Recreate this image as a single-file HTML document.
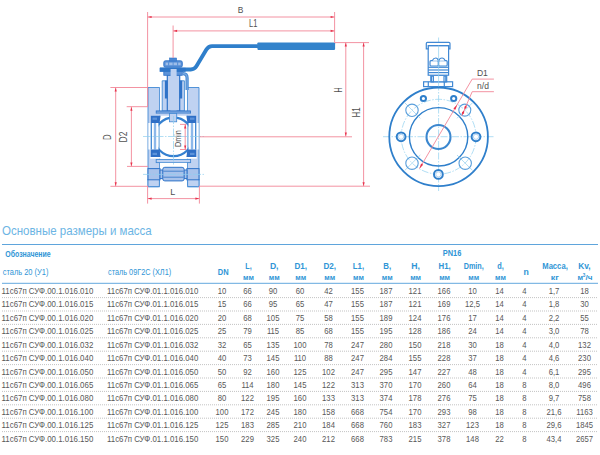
<!DOCTYPE html><html><head><meta charset="utf-8"><style>html,body{margin:0;padding:0;background:#fff;width:600px;height:455px;overflow:hidden}svg{display:block}text{font-family:"Liberation Sans",sans-serif}</style></head><body>
<svg width="600" height="455" viewBox="0 0 600 455">
<rect width="600" height="455" fill="#fff"/>
<g id="drawing"><defs>
<clipPath id="ballclip"><rect x="158.6" y="110" width="29.8" height="60"/></clipPath>
</defs>
<!-- ============ SIDE VIEW VALVE ============ -->
<g id="valve">
  <!-- body blocks (light fill) -->
  <g fill="#bfd2f1" stroke="#4189d4" stroke-width="0.9">
    <path d="M148 87.5 H159.6 V186.8 H148 Z"/>
    <path d="M187.4 87.5 H199 V186.8 H187.4 Z"/>
    <!-- bonnet outer -->
    <path d="M162.2 80.8 H184.4 V111 H162.2 Z"/>
    <!-- inner bonnet -->
    <path d="M167.3 75 H179.7 V111 H167.3 Z" stroke="#2f73c8" stroke-width="1.2"/>
    <!-- stem -->
    <rect x="170.4" y="71" width="6.2" height="42" stroke="none"/>
    <!-- bottom plate -->
    <rect x="156.2" y="159.4" width="34.4" height="3.2"/>
  </g>
  <!-- packing -->
  <g fill="#2f73c8">
    <rect x="164.9" y="80.6" width="2.6" height="17.9"/>
    <rect x="179.6" y="80.6" width="2.6" height="17.9"/>
  </g>
  <g stroke="#ffffff" stroke-width="1">
    <line x1="160.6" y1="88" x2="160.6" y2="110.4"/>
    <line x1="186.3" y1="88" x2="186.3" y2="110.4"/>
  </g>
  <!-- bonnet bottom flange -->
  <rect x="156.2" y="110.9" width="34.3" height="2.8" fill="#6d9edc" stroke="#2f73c8" stroke-width="0.8"/>
  <!-- limit pin tube -->
  <path d="M183 73.6 Q187.1 73.6 187.1 78 V90" fill="none" stroke="#4189d4" stroke-width="3.2"/>
  <path d="M183 73.6 Q187.1 73.6 187.1 78 V90" fill="none" stroke="#7eaae2" stroke-width="1.1"/>
  <!-- handle -->
  <path d="M160 69.5 H190.8 Q194.4 69.5 196.4 66.3 L206.4 49.6 Q208.5 46.1 212 46.1 H258" fill="none" stroke="#2f7fcb" stroke-width="3.9" stroke-linejoin="round"/>
  <rect x="257.4" y="42.5" width="77.7" height="7.4" rx="0.8" fill="#3383cb"/>
  <!-- shoulder under plate -->
  <rect x="163.8" y="71" width="18.5" height="4.3" fill="#5b92d8" stroke="#2f73c8" stroke-width="0.8"/>
  <!-- handle plate -->
  <rect x="159.6" y="67.8" width="26" height="4" fill="#2f76c8"/>
  <!-- stem through plate -->
  <rect x="170.6" y="69" width="6" height="7" fill="#bfd2f1"/>
  <!-- nut -->
  <rect x="163.8" y="60.8" width="18.5" height="6.4" rx="1.6" fill="#5b92d8" stroke="#2f73c8" stroke-width="0.9"/>
  <g fill="#9dbde9">
    <rect x="165.6" y="62.6" width="2.4" height="2.6"/>
    <rect x="169.2" y="62.6" width="3.4" height="2.6"/>
    <rect x="173.6" y="62.6" width="3.4" height="2.6"/>
    <rect x="178.2" y="62.6" width="2.4" height="2.6"/>
  </g>
  <rect x="169.6" y="58" width="7" height="3" fill="#4a88d4" stroke="#2f73c8" stroke-width="0.6"/>
  <!-- ball region -->
  <rect x="150.2" y="115.6" width="46.6" height="43.1" fill="#ffffff"/>
  <rect x="150.2" y="113.6" width="46.6" height="2.1" fill="#bfd2f1"/>
  <!-- seat side stripes -->
  <rect x="148.4" y="123" width="2" height="26.5" fill="#fff"/>
  <rect x="196.6" y="123" width="2" height="26.5" fill="#fff"/>
  <g stroke="#3580d0" stroke-width="1.2">
    <line x1="151.3" y1="123" x2="151.3" y2="149.5"/>
    <line x1="195.7" y1="123" x2="195.7" y2="149.5"/>
  </g>
  <g stroke="#8db8ea" stroke-width="2.4">
    <line x1="155" y1="123" x2="155" y2="149.5"/>
    <line x1="192" y1="123" x2="192" y2="149.5"/>
  </g>
  <g stroke="#5b9ad9" stroke-width="1">
    <line x1="159.1" y1="123" x2="159.1" y2="149.5"/>
    <line x1="187.9" y1="123" x2="187.9" y2="149.5"/>
  </g>
  <!-- ball -->
  <g clip-path="url(#ballclip)">
    <circle cx="173.5" cy="136.85" r="19.35" fill="none" stroke="#3580d0" stroke-width="2.3"/>
  </g>
  <!-- seats (dark) -->
  <g fill="#2f6fc6">
    <path d="M150.6 115.7 H160.6 L159.6 123.1 H150.6 Z"/>
    <path d="M196.4 115.7 H186.4 L187.4 123.1 H196.4 Z"/>
    <path d="M150.6 149.4 H159.6 L160.6 156.9 H150.6 Z"/>
    <path d="M196.4 149.4 H187.4 L186.4 156.9 H196.4 Z"/>
  </g>
  <g fill="#5d93da">
    <rect x="152.5" y="117.6" width="4.5" height="2.2"/>
    <rect x="190" y="117.6" width="4.5" height="2.2"/>
    <rect x="152.5" y="152.8" width="4.5" height="2.2"/>
    <rect x="190" y="152.8" width="4.5" height="2.2"/>
  </g>
  <!-- stem tang -->
  <rect x="169.5" y="113.5" width="7.2" height="8.3" fill="#bfd2f1" stroke="#4189d4" stroke-width="0.8"/>
  <!-- white gaps -->
  <rect x="160.1" y="162.9" width="26.8" height="24.5" fill="#fff"/>
  <!-- feet -->
  <path d="M148 179 V185.3 Q148 186.6 149.3 186.6 H158.1 Q159.4 186.6 159.4 185.3 V179" fill="#bfd2f1" stroke="#4189d4" stroke-width="0.9"/>
  <path d="M187.6 179 V185.3 Q187.6 186.6 188.9 186.6 H197.7 Q199 186.6 199 185.3 V179" fill="#bfd2f1" stroke="#4189d4" stroke-width="0.9"/>
  <!-- bottom bolt -->
  <g fill="#a9c3eb" stroke="#2f73c8" stroke-width="1">
    <rect x="148" y="168.6" width="12" height="11.2"/>
    <rect x="186.9" y="168.6" width="12.1" height="11.2"/>
    <rect x="160" y="170" width="3.2" height="8.6"/>
    <rect x="183.8" y="170" width="3.2" height="8.6"/>
    <rect x="162.8" y="167.3" width="21.3" height="13.6" rx="2"/>
  </g>
  <line x1="163.3" y1="171.2" x2="183.6" y2="171.2" stroke="#2f73c8" stroke-width="0.8"/>
  <line x1="163.3" y1="177.2" x2="183.6" y2="177.2" stroke="#2f73c8" stroke-width="0.8"/>
</g>
<!-- center lines side view -->
<g stroke="#8fd0ef" stroke-width="0.7" fill="none">
  <line x1="143" y1="136.5" x2="205" y2="136.5" stroke-dasharray="8 1.5 1.5 1.5"/>
  <line x1="143" y1="174.4" x2="204" y2="174.4" stroke-dasharray="8 1.5 1.5 1.5"/>
  <line x1="173.5" y1="116" x2="173.5" y2="166" stroke-dasharray="8 1.5 1.5 1.5"/>
</g>

<!-- ============ RED DIMENSIONS ============ -->
<g stroke="#f28797" stroke-width="0.9" fill="none">
  <line x1="147.6" y1="12" x2="147.6" y2="106.7"/>
  <line x1="147.6" y1="17" x2="334.6" y2="17"/>
  <line x1="334.6" y1="12" x2="334.6" y2="42.6"/>
  <line x1="173.1" y1="25.5" x2="173.1" y2="58"/>
  <line x1="173.1" y1="30.9" x2="334.6" y2="30.9"/>
  <line x1="334.6" y1="42.6" x2="369" y2="42.6"/>
  <line x1="345.8" y1="42.6" x2="345.8" y2="136.5"/>
  <line x1="363.6" y1="42.6" x2="363.6" y2="186.2"/>
  <line x1="199.5" y1="136.8" x2="352" y2="136.8"/>
  <line x1="199.5" y1="186.2" x2="370" y2="186.2"/>
  <line x1="110.4" y1="87.5" x2="148" y2="87.5"/>
  <line x1="115.7" y1="87.5" x2="115.7" y2="186.3"/>
  <line x1="110.4" y1="186.3" x2="148" y2="186.3"/>
  <line x1="126.7" y1="106.7" x2="148" y2="106.7"/>
  <line x1="131.4" y1="106.7" x2="131.4" y2="166.4"/>
  <line x1="127" y1="166.4" x2="148" y2="166.4"/>
  <line x1="147.6" y1="186" x2="147.6" y2="203.6"/>
  <line x1="199.4" y1="186" x2="199.4" y2="203.6"/>
  <line x1="147.6" y1="198.6" x2="199.4" y2="198.6"/>
  <line x1="180" y1="124.4" x2="186.5" y2="124.4"/>
  <line x1="180" y1="149.5" x2="186.5" y2="149.5"/>
  <line x1="185.2" y1="124.4" x2="185.2" y2="149.5"/>
</g>
<g fill="#e8324c">
  <!-- B arrows -->
  <path d="M147.8 17 l3.8 -1.1 v2.2 Z"/>
  <path d="M334.4 17 l-3.8 -1.1 v2.2 Z"/>
  <path d="M173.3 30.9 l3.8 -1.1 v2.2 Z"/>
  <path d="M334.4 30.9 l-3.8 -1.1 v2.2 Z"/>
  <!-- H, H1 -->
  <path d="M345.8 42.8 l-1.1 3.8 h2.2 Z"/>
  <path d="M345.8 136.3 l-1.1 -3.8 h2.2 Z"/>
  <path d="M363.6 42.8 l-1.1 3.8 h2.2 Z"/>
  <path d="M363.6 186 l-1.1 -3.8 h2.2 Z"/>
  <!-- D, D2 -->
  <path d="M115.7 87.7 l-1.1 3.8 h2.2 Z"/>
  <path d="M115.7 186.1 l-1.1 -3.8 h2.2 Z"/>
  <path d="M131.4 106.9 l-1.1 3.8 h2.2 Z"/>
  <path d="M131.4 166.2 l-1.1 -3.8 h2.2 Z"/>
  <!-- L -->
  <path d="M147.8 198.6 l3.8 -1.1 v2.2 Z"/>
  <path d="M199.2 198.6 l-3.8 -1.1 v2.2 Z"/>
  <!-- Dmin -->
  <path d="M185.2 124.6 l-1.1 3.8 h2.2 Z"/>
  <path d="M185.2 149.3 l-1.1 -3.8 h2.2 Z"/>
</g>
<!-- labels -->
<g fill="#505050">
  <text x="237.78" y="12.72" font-size="9.6" textLength="5.6" lengthAdjust="spacingAndGlyphs">B</text>
  <text x="248.98" y="26.72" font-size="10.33" textLength="8.34" lengthAdjust="spacingAndGlyphs">L1</text>
  <text x="170.15" y="194.52" font-size="9.6" textLength="5.0" lengthAdjust="spacingAndGlyphs">L</text>
  <text transform="translate(111.25 139.95) rotate(-90)" font-size="10.47" textLength="5.58" lengthAdjust="spacingAndGlyphs">D</text>
  <text transform="translate(127.38 142.38) rotate(-90)" font-size="10.43" textLength="10.78" lengthAdjust="spacingAndGlyphs">D2</text>
  <text transform="translate(341.58 92.52) rotate(-90)" font-size="10.76" textLength="5.13" lengthAdjust="spacingAndGlyphs">H</text>
  <text transform="translate(360.08 117.58) rotate(-90)" font-size="11.35" textLength="10.2" lengthAdjust="spacingAndGlyphs">H1</text>
  <text transform="translate(180.9 147.1) rotate(-90)" font-size="8.28" textLength="16.95" lengthAdjust="spacingAndGlyphs">Dmin</text>
  <text x="476.88" y="75.82" font-size="9.6" textLength="10.97" lengthAdjust="spacingAndGlyphs">D1</text>
  <text x="477.0" y="89.12" font-size="9.09" textLength="11.89" lengthAdjust="spacingAndGlyphs">n/d</text>
</g>

<!-- ============ FRONT VIEW ============ -->
<g id="front">
  <!-- center lines -->
  <g stroke="#8fd0ef" stroke-width="0.7" fill="none" stroke-dasharray="7 1.5 1.5 1.5">
    <line x1="383" y1="136.7" x2="495" y2="136.7"/>
    <line x1="438.6" y1="37.5" x2="438.6" y2="191"/>
    <circle cx="438.6" cy="136.7" r="37.4"/>
  </g>
  <!-- actuator -->
  <g fill="#fff" stroke="#4189d4" stroke-width="1.2">
    <rect x="423.6" y="81.8" width="29" height="4.8"/>
    <line x1="428.3" y1="81.8" x2="428.3" y2="86.6"/>
    <line x1="444.3" y1="81.8" x2="444.3" y2="86.6"/>
    <rect x="430.8" y="75.2" width="15.9" height="6.6"/>
    <rect x="431.6" y="76" width="1.8" height="5.8"/>
    <rect x="444" y="76" width="1.8" height="5.8"/>
    <rect x="428.2" y="45.6" width="20.4" height="29.6"/>
    <path d="M426.3 48.8 V43.4 Q426.3 42.3 427.4 42.3 H448.9 Q450 42.3 450 43.4 V48.8 H448.6 V45.6 H428.2 V48.8 Z"/>
    <line x1="428.2" y1="67.3" x2="448.6" y2="67.3"/>
    <line x1="428.2" y1="70" x2="448.6" y2="70"/>
    <line x1="428.2" y1="72.6" x2="448.6" y2="72.6"/>
    <rect x="430" y="60.7" width="8.3" height="5.3" rx="1"/>
    <rect x="438.6" y="60.7" width="8.6" height="5.3" rx="1"/>
    <path d="M432.2 60.7 Q433.5 58 435.8 58 Q437.6 58 438.3 60.7 M438.8 60.7 Q439.6 58 442 58 Q444.2 58 445 60.7"/>
  </g>
  <line x1="438.6" y1="45.6" x2="438.6" y2="87" stroke="#8fd0ef" stroke-width="0.7"/>
  <!-- outer flange -->
  <circle cx="438.6" cy="136.8" r="49.3" fill="none" stroke="#2f7fcb" stroke-width="1.8"/>
  <circle cx="438.6" cy="136.8" r="29.2" fill="none" stroke="#2f7fcb" stroke-width="1.4"/>
  <circle cx="438.5" cy="137" r="12" fill="none" stroke="#3b87cf" stroke-width="2.1"/>
  <!-- solid bolts -->
  <g fill="#fff" stroke="#2f7fcb" stroke-width="2">
    <circle cx="401.1" cy="136.8" r="4.4"/>
    <circle cx="476" cy="136.8" r="4.4"/>
    <circle cx="438.4" cy="174.4" r="4.4"/>
    <circle cx="423.4" cy="98.5" r="2.6"/>
    <circle cx="453.7" cy="98.5" r="2.6"/>
  </g>
  <g fill="none" stroke="#8fc0ec" stroke-width="0.7">
    <circle cx="401.1" cy="136.8" r="2.6"/>
    <circle cx="476" cy="136.8" r="2.6"/>
    <circle cx="438.4" cy="174.4" r="2.6"/>
  </g>
  <!-- holes with X -->
  <g fill="none" stroke="#8fcdee" stroke-width="0.7">
    <path d="M404.7 102.7 L420.3 118.3 M472.6 102.7 L457 118.3 M404.7 170.5 L420.3 155 M472.6 170.5 L457 155"/>
  </g>
  <g fill="none" stroke="#5a9fdc" stroke-width="1.1">
    <circle cx="412" cy="110.3" r="6.2"/>
    <circle cx="464.8" cy="110.1" r="6"/>
    <circle cx="412" cy="163.2" r="6.2"/>
    <circle cx="465.2" cy="163.2" r="6.2"/>
  </g>
  <!-- leaders -->
  <g stroke="#f28797" stroke-width="0.9" fill="none">
    <path d="M493.9 79.1 H472.2 L419.50 168.50"/>
    <path d="M493.9 91.7 H472.2 L461.8 115.8"/>
  </g>
  <g fill="#e8324c">
    <path d="M457.09 104.73 L453.41 108.60 L455.48 109.82 Z"/>
    <path d="M419.50 168.50 L423.17 164.63 L421.11 163.41 Z"/>
    <path d="M464.51 109.51 L464.45 106.76 L466.49 104.92 L466.56 107.67 Z"/>
    <path d="M462.10 115.11 L462.03 112.36 L464.08 110.52 L464.14 113.27 Z"/>
  </g>
</g>
</g>
<text x="2" y="235.3" font-size="12.2" fill="#6cb5e4" textLength="149.74" lengthAdjust="spacingAndGlyphs">Основные размеры и масса</text>
<rect x="2" y="244" width="596" height="1" fill="#5fa5dc"/>
<rect x="2" y="282.8" width="596" height="1" fill="#64a9de"/>
<text x="5.33" y="257.2" font-size="8.8" font-weight="bold" fill="#2f95d6" textLength="45.37" lengthAdjust="spacingAndGlyphs">Обозначение</text>
<text x="2.67" y="275.2" font-size="9" fill="#2f95d6" textLength="45.82" lengthAdjust="spacingAndGlyphs">сталь 20 (У1)</text>
<text x="107.97" y="275.4" font-size="9" fill="#2f95d6" textLength="63.19" lengthAdjust="spacingAndGlyphs">сталь 09Г2С (ХЛ1)</text>
<text x="442.8" y="255.8" font-size="8.6" font-weight="bold" fill="#2f95d6" textLength="18.59" lengthAdjust="spacingAndGlyphs">PN16</text>
<text x="217.8" y="274.8" font-size="9" font-weight="bold" fill="#2f95d6" textLength="10.8" lengthAdjust="spacingAndGlyphs">DN</text>
<text x="245.3" y="269.3" font-size="9" font-weight="bold" fill="#2f95d6" textLength="6.36" lengthAdjust="spacingAndGlyphs">L,</text>
<text x="243.03" y="280.1" font-size="7.8" font-weight="bold" fill="#2f95d6" textLength="10.89" lengthAdjust="spacingAndGlyphs">мм</text>
<text x="269.9" y="269.3" font-size="9" font-weight="bold" fill="#2f95d6" textLength="8.63" lengthAdjust="spacingAndGlyphs">D,</text>
<text x="268.76" y="280.1" font-size="7.8" font-weight="bold" fill="#2f95d6" textLength="10.89" lengthAdjust="spacingAndGlyphs">мм</text>
<text x="294.5" y="269.3" font-size="9" font-weight="bold" fill="#2f95d6" textLength="12.6" lengthAdjust="spacingAndGlyphs">D1,</text>
<text x="295.35" y="280.1" font-size="7.8" font-weight="bold" fill="#2f95d6" textLength="10.89" lengthAdjust="spacingAndGlyphs">мм</text>
<text x="323.5" y="269.3" font-size="9" font-weight="bold" fill="#2f95d6" textLength="12.6" lengthAdjust="spacingAndGlyphs">D2,</text>
<text x="324.35" y="280.1" font-size="7.8" font-weight="bold" fill="#2f95d6" textLength="10.89" lengthAdjust="spacingAndGlyphs">мм</text>
<text x="352.8" y="269.3" font-size="9" font-weight="bold" fill="#2f95d6" textLength="11.31" lengthAdjust="spacingAndGlyphs">L1,</text>
<text x="353.00" y="280.1" font-size="7.8" font-weight="bold" fill="#2f95d6" textLength="10.89" lengthAdjust="spacingAndGlyphs">мм</text>
<text x="383.2" y="269.3" font-size="9" font-weight="bold" fill="#2f95d6" textLength="7.88" lengthAdjust="spacingAndGlyphs">B,</text>
<text x="381.69" y="280.1" font-size="7.8" font-weight="bold" fill="#2f95d6" textLength="10.89" lengthAdjust="spacingAndGlyphs">мм</text>
<text x="411.3" y="269.3" font-size="9" font-weight="bold" fill="#2f95d6" textLength="8.63" lengthAdjust="spacingAndGlyphs">H,</text>
<text x="410.17" y="280.1" font-size="7.8" font-weight="bold" fill="#2f95d6" textLength="10.89" lengthAdjust="spacingAndGlyphs">мм</text>
<text x="438.5" y="269.3" font-size="9" font-weight="bold" fill="#2f95d6" textLength="12.24" lengthAdjust="spacingAndGlyphs">H1,</text>
<text x="439.17" y="280.1" font-size="7.8" font-weight="bold" fill="#2f95d6" textLength="10.89" lengthAdjust="spacingAndGlyphs">мм</text>
<text x="463.7" y="269.3" font-size="9" font-weight="bold" fill="#2f95d6" textLength="20.06" lengthAdjust="spacingAndGlyphs">Dmin,</text>
<text x="468.28" y="280.1" font-size="7.8" font-weight="bold" fill="#2f95d6" textLength="10.89" lengthAdjust="spacingAndGlyphs">мм</text>
<text x="497.17" y="269.3" font-size="9" font-weight="bold" fill="#2f95d6" textLength="6.56" lengthAdjust="spacingAndGlyphs">d,</text>
<text x="495.00" y="280.1" font-size="7.8" font-weight="bold" fill="#2f95d6" textLength="10.89" lengthAdjust="spacingAndGlyphs">мм</text>
<text x="523.5" y="274.8" font-size="9" font-weight="bold" fill="#2f95d6" textLength="5.32" lengthAdjust="spacingAndGlyphs">n</text>
<text x="542.2" y="269.3" font-size="9" font-weight="bold" fill="#2f95d6" textLength="25.62" lengthAdjust="spacingAndGlyphs">Масса,</text>
<text x="550.8" y="280.1" font-size="7.8" font-weight="bold" fill="#2f95d6" textLength="8.17" lengthAdjust="spacingAndGlyphs">кг</text>
<text x="578.2" y="269.3" font-size="9" font-weight="bold" fill="#2f95d6" textLength="12.42" lengthAdjust="spacingAndGlyphs">Kv,</text>
<text x="577.5" y="280.1" font-size="7.8" font-weight="bold" fill="#2f95d6" textLength="5.6" lengthAdjust="spacingAndGlyphs">м</text>
<text x="582.8" y="277.1" font-size="5.6" font-weight="bold" fill="#2f95d6" textLength="2.6" lengthAdjust="spacingAndGlyphs">3</text>
<text x="585.5" y="280.1" font-size="8" font-weight="bold" fill="#2f95d6" textLength="7" lengthAdjust="spacingAndGlyphs">/ч</text>
<text x="1.5" y="293.80" font-size="9.5" fill="#585858" textLength="91.77" lengthAdjust="spacingAndGlyphs">11с67п СУФ.00.1.016.010</text>
<text x="107" y="293.80" font-size="9.5" fill="#585858" textLength="91.27" lengthAdjust="spacingAndGlyphs">11с67п СУФ.01.1.016.010</text>
<text transform="translate(222 293.80) scale(0.81 1)" font-size="9.5" fill="#585858" text-anchor="middle">10</text>
<text transform="translate(247.5 293.80) scale(0.81 1)" font-size="9.5" fill="#585858" text-anchor="middle">66</text>
<text transform="translate(273 293.80) scale(0.81 1)" font-size="9.5" fill="#585858" text-anchor="middle">90</text>
<text transform="translate(300 293.80) scale(0.81 1)" font-size="9.5" fill="#585858" text-anchor="middle">60</text>
<text transform="translate(328.5 293.80) scale(0.81 1)" font-size="9.5" fill="#585858" text-anchor="middle">42</text>
<text transform="translate(357.5 293.80) scale(0.81 1)" font-size="9.5" fill="#585858" text-anchor="middle">155</text>
<text transform="translate(386 293.80) scale(0.81 1)" font-size="9.5" fill="#585858" text-anchor="middle">187</text>
<text transform="translate(415 293.80) scale(0.81 1)" font-size="9.5" fill="#585858" text-anchor="middle">121</text>
<text transform="translate(444 293.80) scale(0.81 1)" font-size="9.5" fill="#585858" text-anchor="middle">166</text>
<text transform="translate(472.5 293.80) scale(0.81 1)" font-size="9.5" fill="#585858" text-anchor="middle">10</text>
<text transform="translate(499.5 293.80) scale(0.81 1)" font-size="9.5" fill="#585858" text-anchor="middle">14</text>
<text transform="translate(524.5 293.80) scale(0.81 1)" font-size="9.5" fill="#585858" text-anchor="middle">4</text>
<text transform="translate(554 293.80) scale(0.81 1)" font-size="9.5" fill="#585858" text-anchor="middle">1,7</text>
<text transform="translate(584.5 293.80) scale(0.81 1)" font-size="9.5" fill="#585858" text-anchor="middle">18</text>
<line x1="2" y1="297.6" x2="598" y2="297.6" stroke="#b4b4b4" stroke-width="0.8" stroke-dasharray="1 1"/>
<text x="1.5" y="307.25" font-size="9.5" fill="#585858" textLength="91.77" lengthAdjust="spacingAndGlyphs">11с67п СУФ.00.1.016.015</text>
<text x="107" y="307.25" font-size="9.5" fill="#585858" textLength="91.27" lengthAdjust="spacingAndGlyphs">11с67п СУФ.01.1.016.015</text>
<text transform="translate(222 307.25) scale(0.81 1)" font-size="9.5" fill="#585858" text-anchor="middle">15</text>
<text transform="translate(247.5 307.25) scale(0.81 1)" font-size="9.5" fill="#585858" text-anchor="middle">66</text>
<text transform="translate(273 307.25) scale(0.81 1)" font-size="9.5" fill="#585858" text-anchor="middle">95</text>
<text transform="translate(300 307.25) scale(0.81 1)" font-size="9.5" fill="#585858" text-anchor="middle">65</text>
<text transform="translate(328.5 307.25) scale(0.81 1)" font-size="9.5" fill="#585858" text-anchor="middle">47</text>
<text transform="translate(357.5 307.25) scale(0.81 1)" font-size="9.5" fill="#585858" text-anchor="middle">155</text>
<text transform="translate(386 307.25) scale(0.81 1)" font-size="9.5" fill="#585858" text-anchor="middle">187</text>
<text transform="translate(415 307.25) scale(0.81 1)" font-size="9.5" fill="#585858" text-anchor="middle">121</text>
<text transform="translate(444 307.25) scale(0.81 1)" font-size="9.5" fill="#585858" text-anchor="middle">169</text>
<text transform="translate(472.5 307.25) scale(0.81 1)" font-size="9.5" fill="#585858" text-anchor="middle">12,5</text>
<text transform="translate(499.5 307.25) scale(0.81 1)" font-size="9.5" fill="#585858" text-anchor="middle">14</text>
<text transform="translate(524.5 307.25) scale(0.81 1)" font-size="9.5" fill="#585858" text-anchor="middle">4</text>
<text transform="translate(554 307.25) scale(0.81 1)" font-size="9.5" fill="#585858" text-anchor="middle">1,8</text>
<text transform="translate(584.5 307.25) scale(0.81 1)" font-size="9.5" fill="#585858" text-anchor="middle">30</text>
<line x1="2" y1="311.0" x2="598" y2="311.0" stroke="#b4b4b4" stroke-width="0.8" stroke-dasharray="1 1"/>
<text x="1.5" y="320.70" font-size="9.5" fill="#585858" textLength="91.77" lengthAdjust="spacingAndGlyphs">11с67п СУФ.00.1.016.020</text>
<text x="107" y="320.70" font-size="9.5" fill="#585858" textLength="91.27" lengthAdjust="spacingAndGlyphs">11с67п СУФ.01.1.016.020</text>
<text transform="translate(222 320.70) scale(0.81 1)" font-size="9.5" fill="#585858" text-anchor="middle">20</text>
<text transform="translate(247.5 320.70) scale(0.81 1)" font-size="9.5" fill="#585858" text-anchor="middle">68</text>
<text transform="translate(273 320.70) scale(0.81 1)" font-size="9.5" fill="#585858" text-anchor="middle">105</text>
<text transform="translate(300 320.70) scale(0.81 1)" font-size="9.5" fill="#585858" text-anchor="middle">75</text>
<text transform="translate(328.5 320.70) scale(0.81 1)" font-size="9.5" fill="#585858" text-anchor="middle">58</text>
<text transform="translate(357.5 320.70) scale(0.81 1)" font-size="9.5" fill="#585858" text-anchor="middle">155</text>
<text transform="translate(386 320.70) scale(0.81 1)" font-size="9.5" fill="#585858" text-anchor="middle">189</text>
<text transform="translate(415 320.70) scale(0.81 1)" font-size="9.5" fill="#585858" text-anchor="middle">124</text>
<text transform="translate(444 320.70) scale(0.81 1)" font-size="9.5" fill="#585858" text-anchor="middle">176</text>
<text transform="translate(472.5 320.70) scale(0.81 1)" font-size="9.5" fill="#585858" text-anchor="middle">17</text>
<text transform="translate(499.5 320.70) scale(0.81 1)" font-size="9.5" fill="#585858" text-anchor="middle">14</text>
<text transform="translate(524.5 320.70) scale(0.81 1)" font-size="9.5" fill="#585858" text-anchor="middle">4</text>
<text transform="translate(554 320.70) scale(0.81 1)" font-size="9.5" fill="#585858" text-anchor="middle">2,2</text>
<text transform="translate(584.5 320.70) scale(0.81 1)" font-size="9.5" fill="#585858" text-anchor="middle">55</text>
<line x1="2" y1="324.4" x2="598" y2="324.4" stroke="#b4b4b4" stroke-width="0.8" stroke-dasharray="1 1"/>
<text x="1.5" y="334.15" font-size="9.5" fill="#585858" textLength="91.77" lengthAdjust="spacingAndGlyphs">11с67п СУФ.00.1.016.025</text>
<text x="107" y="334.15" font-size="9.5" fill="#585858" textLength="91.27" lengthAdjust="spacingAndGlyphs">11с67п СУФ.01.1.016.025</text>
<text transform="translate(222 334.15) scale(0.81 1)" font-size="9.5" fill="#585858" text-anchor="middle">25</text>
<text transform="translate(247.5 334.15) scale(0.81 1)" font-size="9.5" fill="#585858" text-anchor="middle">79</text>
<text transform="translate(273 334.15) scale(0.81 1)" font-size="9.5" fill="#585858" text-anchor="middle">115</text>
<text transform="translate(300 334.15) scale(0.81 1)" font-size="9.5" fill="#585858" text-anchor="middle">85</text>
<text transform="translate(328.5 334.15) scale(0.81 1)" font-size="9.5" fill="#585858" text-anchor="middle">68</text>
<text transform="translate(357.5 334.15) scale(0.81 1)" font-size="9.5" fill="#585858" text-anchor="middle">155</text>
<text transform="translate(386 334.15) scale(0.81 1)" font-size="9.5" fill="#585858" text-anchor="middle">195</text>
<text transform="translate(415 334.15) scale(0.81 1)" font-size="9.5" fill="#585858" text-anchor="middle">128</text>
<text transform="translate(444 334.15) scale(0.81 1)" font-size="9.5" fill="#585858" text-anchor="middle">186</text>
<text transform="translate(472.5 334.15) scale(0.81 1)" font-size="9.5" fill="#585858" text-anchor="middle">24</text>
<text transform="translate(499.5 334.15) scale(0.81 1)" font-size="9.5" fill="#585858" text-anchor="middle">14</text>
<text transform="translate(524.5 334.15) scale(0.81 1)" font-size="9.5" fill="#585858" text-anchor="middle">4</text>
<text transform="translate(554 334.15) scale(0.81 1)" font-size="9.5" fill="#585858" text-anchor="middle">3,0</text>
<text transform="translate(584.5 334.15) scale(0.81 1)" font-size="9.5" fill="#585858" text-anchor="middle">78</text>
<line x1="2" y1="337.8" x2="598" y2="337.8" stroke="#b4b4b4" stroke-width="0.8" stroke-dasharray="1 1"/>
<text x="1.5" y="347.60" font-size="9.5" fill="#585858" textLength="91.77" lengthAdjust="spacingAndGlyphs">11с67п СУФ.00.1.016.032</text>
<text x="107" y="347.60" font-size="9.5" fill="#585858" textLength="91.27" lengthAdjust="spacingAndGlyphs">11с67п СУФ.01.1.016.032</text>
<text transform="translate(222 347.60) scale(0.81 1)" font-size="9.5" fill="#585858" text-anchor="middle">32</text>
<text transform="translate(247.5 347.60) scale(0.81 1)" font-size="9.5" fill="#585858" text-anchor="middle">65</text>
<text transform="translate(273 347.60) scale(0.81 1)" font-size="9.5" fill="#585858" text-anchor="middle">135</text>
<text transform="translate(300 347.60) scale(0.81 1)" font-size="9.5" fill="#585858" text-anchor="middle">100</text>
<text transform="translate(328.5 347.60) scale(0.81 1)" font-size="9.5" fill="#585858" text-anchor="middle">78</text>
<text transform="translate(357.5 347.60) scale(0.81 1)" font-size="9.5" fill="#585858" text-anchor="middle">247</text>
<text transform="translate(386 347.60) scale(0.81 1)" font-size="9.5" fill="#585858" text-anchor="middle">280</text>
<text transform="translate(415 347.60) scale(0.81 1)" font-size="9.5" fill="#585858" text-anchor="middle">150</text>
<text transform="translate(444 347.60) scale(0.81 1)" font-size="9.5" fill="#585858" text-anchor="middle">218</text>
<text transform="translate(472.5 347.60) scale(0.81 1)" font-size="9.5" fill="#585858" text-anchor="middle">30</text>
<text transform="translate(499.5 347.60) scale(0.81 1)" font-size="9.5" fill="#585858" text-anchor="middle">18</text>
<text transform="translate(524.5 347.60) scale(0.81 1)" font-size="9.5" fill="#585858" text-anchor="middle">4</text>
<text transform="translate(554 347.60) scale(0.81 1)" font-size="9.5" fill="#585858" text-anchor="middle">4,0</text>
<text transform="translate(584.5 347.60) scale(0.81 1)" font-size="9.5" fill="#585858" text-anchor="middle">132</text>
<line x1="2" y1="351.2" x2="598" y2="351.2" stroke="#b4b4b4" stroke-width="0.8" stroke-dasharray="1 1"/>
<text x="1.5" y="361.05" font-size="9.5" fill="#585858" textLength="91.77" lengthAdjust="spacingAndGlyphs">11с67п СУФ.00.1.016.040</text>
<text x="107" y="361.05" font-size="9.5" fill="#585858" textLength="91.27" lengthAdjust="spacingAndGlyphs">11с67п СУФ.01.1.016.040</text>
<text transform="translate(222 361.05) scale(0.81 1)" font-size="9.5" fill="#585858" text-anchor="middle">40</text>
<text transform="translate(247.5 361.05) scale(0.81 1)" font-size="9.5" fill="#585858" text-anchor="middle">73</text>
<text transform="translate(273 361.05) scale(0.81 1)" font-size="9.5" fill="#585858" text-anchor="middle">145</text>
<text transform="translate(300 361.05) scale(0.81 1)" font-size="9.5" fill="#585858" text-anchor="middle">110</text>
<text transform="translate(328.5 361.05) scale(0.81 1)" font-size="9.5" fill="#585858" text-anchor="middle">88</text>
<text transform="translate(357.5 361.05) scale(0.81 1)" font-size="9.5" fill="#585858" text-anchor="middle">247</text>
<text transform="translate(386 361.05) scale(0.81 1)" font-size="9.5" fill="#585858" text-anchor="middle">284</text>
<text transform="translate(415 361.05) scale(0.81 1)" font-size="9.5" fill="#585858" text-anchor="middle">155</text>
<text transform="translate(444 361.05) scale(0.81 1)" font-size="9.5" fill="#585858" text-anchor="middle">228</text>
<text transform="translate(472.5 361.05) scale(0.81 1)" font-size="9.5" fill="#585858" text-anchor="middle">37</text>
<text transform="translate(499.5 361.05) scale(0.81 1)" font-size="9.5" fill="#585858" text-anchor="middle">18</text>
<text transform="translate(524.5 361.05) scale(0.81 1)" font-size="9.5" fill="#585858" text-anchor="middle">4</text>
<text transform="translate(554 361.05) scale(0.81 1)" font-size="9.5" fill="#585858" text-anchor="middle">4,6</text>
<text transform="translate(584.5 361.05) scale(0.81 1)" font-size="9.5" fill="#585858" text-anchor="middle">230</text>
<line x1="2" y1="364.6" x2="598" y2="364.6" stroke="#b4b4b4" stroke-width="0.8" stroke-dasharray="1 1"/>
<text x="1.5" y="374.50" font-size="9.5" fill="#585858" textLength="91.77" lengthAdjust="spacingAndGlyphs">11с67п СУФ.00.1.016.050</text>
<text x="107" y="374.50" font-size="9.5" fill="#585858" textLength="91.27" lengthAdjust="spacingAndGlyphs">11с67п СУФ.01.1.016.050</text>
<text transform="translate(222 374.50) scale(0.81 1)" font-size="9.5" fill="#585858" text-anchor="middle">50</text>
<text transform="translate(247.5 374.50) scale(0.81 1)" font-size="9.5" fill="#585858" text-anchor="middle">92</text>
<text transform="translate(273 374.50) scale(0.81 1)" font-size="9.5" fill="#585858" text-anchor="middle">160</text>
<text transform="translate(300 374.50) scale(0.81 1)" font-size="9.5" fill="#585858" text-anchor="middle">125</text>
<text transform="translate(328.5 374.50) scale(0.81 1)" font-size="9.5" fill="#585858" text-anchor="middle">102</text>
<text transform="translate(357.5 374.50) scale(0.81 1)" font-size="9.5" fill="#585858" text-anchor="middle">247</text>
<text transform="translate(386 374.50) scale(0.81 1)" font-size="9.5" fill="#585858" text-anchor="middle">295</text>
<text transform="translate(415 374.50) scale(0.81 1)" font-size="9.5" fill="#585858" text-anchor="middle">147</text>
<text transform="translate(444 374.50) scale(0.81 1)" font-size="9.5" fill="#585858" text-anchor="middle">227</text>
<text transform="translate(472.5 374.50) scale(0.81 1)" font-size="9.5" fill="#585858" text-anchor="middle">48</text>
<text transform="translate(499.5 374.50) scale(0.81 1)" font-size="9.5" fill="#585858" text-anchor="middle">18</text>
<text transform="translate(524.5 374.50) scale(0.81 1)" font-size="9.5" fill="#585858" text-anchor="middle">4</text>
<text transform="translate(554 374.50) scale(0.81 1)" font-size="9.5" fill="#585858" text-anchor="middle">6,1</text>
<text transform="translate(584.5 374.50) scale(0.81 1)" font-size="9.5" fill="#585858" text-anchor="middle">295</text>
<line x1="2" y1="378.0" x2="598" y2="378.0" stroke="#b4b4b4" stroke-width="0.8" stroke-dasharray="1 1"/>
<text x="1.5" y="387.95" font-size="9.5" fill="#585858" textLength="91.77" lengthAdjust="spacingAndGlyphs">11с67п СУФ.00.1.016.065</text>
<text x="107" y="387.95" font-size="9.5" fill="#585858" textLength="91.27" lengthAdjust="spacingAndGlyphs">11с67п СУФ.01.1.016.065</text>
<text transform="translate(222 387.95) scale(0.81 1)" font-size="9.5" fill="#585858" text-anchor="middle">65</text>
<text transform="translate(247.5 387.95) scale(0.81 1)" font-size="9.5" fill="#585858" text-anchor="middle">114</text>
<text transform="translate(273 387.95) scale(0.81 1)" font-size="9.5" fill="#585858" text-anchor="middle">180</text>
<text transform="translate(300 387.95) scale(0.81 1)" font-size="9.5" fill="#585858" text-anchor="middle">145</text>
<text transform="translate(328.5 387.95) scale(0.81 1)" font-size="9.5" fill="#585858" text-anchor="middle">122</text>
<text transform="translate(357.5 387.95) scale(0.81 1)" font-size="9.5" fill="#585858" text-anchor="middle">313</text>
<text transform="translate(386 387.95) scale(0.81 1)" font-size="9.5" fill="#585858" text-anchor="middle">370</text>
<text transform="translate(415 387.95) scale(0.81 1)" font-size="9.5" fill="#585858" text-anchor="middle">170</text>
<text transform="translate(444 387.95) scale(0.81 1)" font-size="9.5" fill="#585858" text-anchor="middle">260</text>
<text transform="translate(472.5 387.95) scale(0.81 1)" font-size="9.5" fill="#585858" text-anchor="middle">64</text>
<text transform="translate(499.5 387.95) scale(0.81 1)" font-size="9.5" fill="#585858" text-anchor="middle">18</text>
<text transform="translate(524.5 387.95) scale(0.81 1)" font-size="9.5" fill="#585858" text-anchor="middle">8</text>
<text transform="translate(554 387.95) scale(0.81 1)" font-size="9.5" fill="#585858" text-anchor="middle">8,0</text>
<text transform="translate(584.5 387.95) scale(0.81 1)" font-size="9.5" fill="#585858" text-anchor="middle">496</text>
<line x1="2" y1="391.4" x2="598" y2="391.4" stroke="#b4b4b4" stroke-width="0.8" stroke-dasharray="1 1"/>
<text x="1.5" y="401.40" font-size="9.5" fill="#585858" textLength="91.77" lengthAdjust="spacingAndGlyphs">11с67п СУФ.00.1.016.080</text>
<text x="107" y="401.40" font-size="9.5" fill="#585858" textLength="91.27" lengthAdjust="spacingAndGlyphs">11с67п СУФ.01.1.016.080</text>
<text transform="translate(222 401.40) scale(0.81 1)" font-size="9.5" fill="#585858" text-anchor="middle">80</text>
<text transform="translate(247.5 401.40) scale(0.81 1)" font-size="9.5" fill="#585858" text-anchor="middle">122</text>
<text transform="translate(273 401.40) scale(0.81 1)" font-size="9.5" fill="#585858" text-anchor="middle">195</text>
<text transform="translate(300 401.40) scale(0.81 1)" font-size="9.5" fill="#585858" text-anchor="middle">160</text>
<text transform="translate(328.5 401.40) scale(0.81 1)" font-size="9.5" fill="#585858" text-anchor="middle">133</text>
<text transform="translate(357.5 401.40) scale(0.81 1)" font-size="9.5" fill="#585858" text-anchor="middle">313</text>
<text transform="translate(386 401.40) scale(0.81 1)" font-size="9.5" fill="#585858" text-anchor="middle">374</text>
<text transform="translate(415 401.40) scale(0.81 1)" font-size="9.5" fill="#585858" text-anchor="middle">178</text>
<text transform="translate(444 401.40) scale(0.81 1)" font-size="9.5" fill="#585858" text-anchor="middle">276</text>
<text transform="translate(472.5 401.40) scale(0.81 1)" font-size="9.5" fill="#585858" text-anchor="middle">75</text>
<text transform="translate(499.5 401.40) scale(0.81 1)" font-size="9.5" fill="#585858" text-anchor="middle">18</text>
<text transform="translate(524.5 401.40) scale(0.81 1)" font-size="9.5" fill="#585858" text-anchor="middle">8</text>
<text transform="translate(554 401.40) scale(0.81 1)" font-size="9.5" fill="#585858" text-anchor="middle">9,7</text>
<text transform="translate(584.5 401.40) scale(0.81 1)" font-size="9.5" fill="#585858" text-anchor="middle">758</text>
<line x1="2" y1="404.8" x2="598" y2="404.8" stroke="#b4b4b4" stroke-width="0.8" stroke-dasharray="1 1"/>
<text x="1.5" y="414.85" font-size="9.5" fill="#585858" textLength="91.77" lengthAdjust="spacingAndGlyphs">11с67п СУФ.00.1.016.100</text>
<text x="107" y="414.85" font-size="9.5" fill="#585858" textLength="91.27" lengthAdjust="spacingAndGlyphs">11с67п СУФ.01.1.016.100</text>
<text transform="translate(222 414.85) scale(0.81 1)" font-size="9.5" fill="#585858" text-anchor="middle">100</text>
<text transform="translate(247.5 414.85) scale(0.81 1)" font-size="9.5" fill="#585858" text-anchor="middle">172</text>
<text transform="translate(273 414.85) scale(0.81 1)" font-size="9.5" fill="#585858" text-anchor="middle">245</text>
<text transform="translate(300 414.85) scale(0.81 1)" font-size="9.5" fill="#585858" text-anchor="middle">180</text>
<text transform="translate(328.5 414.85) scale(0.81 1)" font-size="9.5" fill="#585858" text-anchor="middle">158</text>
<text transform="translate(357.5 414.85) scale(0.81 1)" font-size="9.5" fill="#585858" text-anchor="middle">668</text>
<text transform="translate(386 414.85) scale(0.81 1)" font-size="9.5" fill="#585858" text-anchor="middle">754</text>
<text transform="translate(415 414.85) scale(0.81 1)" font-size="9.5" fill="#585858" text-anchor="middle">170</text>
<text transform="translate(444 414.85) scale(0.81 1)" font-size="9.5" fill="#585858" text-anchor="middle">293</text>
<text transform="translate(472.5 414.85) scale(0.81 1)" font-size="9.5" fill="#585858" text-anchor="middle">98</text>
<text transform="translate(499.5 414.85) scale(0.81 1)" font-size="9.5" fill="#585858" text-anchor="middle">18</text>
<text transform="translate(524.5 414.85) scale(0.81 1)" font-size="9.5" fill="#585858" text-anchor="middle">8</text>
<text transform="translate(554 414.85) scale(0.81 1)" font-size="9.5" fill="#585858" text-anchor="middle">21,6</text>
<text transform="translate(584.5 414.85) scale(0.81 1)" font-size="9.5" fill="#585858" text-anchor="middle">1163</text>
<line x1="2" y1="418.2" x2="598" y2="418.2" stroke="#b4b4b4" stroke-width="0.8" stroke-dasharray="1 1"/>
<text x="1.5" y="428.30" font-size="9.5" fill="#585858" textLength="91.77" lengthAdjust="spacingAndGlyphs">11с67п СУФ.00.1.016.125</text>
<text x="107" y="428.30" font-size="9.5" fill="#585858" textLength="91.27" lengthAdjust="spacingAndGlyphs">11с67п СУФ.01.1.016.125</text>
<text transform="translate(222 428.30) scale(0.81 1)" font-size="9.5" fill="#585858" text-anchor="middle">125</text>
<text transform="translate(247.5 428.30) scale(0.81 1)" font-size="9.5" fill="#585858" text-anchor="middle">183</text>
<text transform="translate(273 428.30) scale(0.81 1)" font-size="9.5" fill="#585858" text-anchor="middle">285</text>
<text transform="translate(300 428.30) scale(0.81 1)" font-size="9.5" fill="#585858" text-anchor="middle">210</text>
<text transform="translate(328.5 428.30) scale(0.81 1)" font-size="9.5" fill="#585858" text-anchor="middle">184</text>
<text transform="translate(357.5 428.30) scale(0.81 1)" font-size="9.5" fill="#585858" text-anchor="middle">668</text>
<text transform="translate(386 428.30) scale(0.81 1)" font-size="9.5" fill="#585858" text-anchor="middle">760</text>
<text transform="translate(415 428.30) scale(0.81 1)" font-size="9.5" fill="#585858" text-anchor="middle">183</text>
<text transform="translate(444 428.30) scale(0.81 1)" font-size="9.5" fill="#585858" text-anchor="middle">327</text>
<text transform="translate(472.5 428.30) scale(0.81 1)" font-size="9.5" fill="#585858" text-anchor="middle">123</text>
<text transform="translate(499.5 428.30) scale(0.81 1)" font-size="9.5" fill="#585858" text-anchor="middle">18</text>
<text transform="translate(524.5 428.30) scale(0.81 1)" font-size="9.5" fill="#585858" text-anchor="middle">8</text>
<text transform="translate(554 428.30) scale(0.81 1)" font-size="9.5" fill="#585858" text-anchor="middle">29,6</text>
<text transform="translate(584.5 428.30) scale(0.81 1)" font-size="9.5" fill="#585858" text-anchor="middle">1845</text>
<line x1="2" y1="431.6" x2="598" y2="431.6" stroke="#b4b4b4" stroke-width="0.8" stroke-dasharray="1 1"/>
<text x="1.5" y="441.75" font-size="9.5" fill="#585858" textLength="91.77" lengthAdjust="spacingAndGlyphs">11с67п СУФ.00.1.016.150</text>
<text x="107" y="441.75" font-size="9.5" fill="#585858" textLength="91.27" lengthAdjust="spacingAndGlyphs">11с67п СУФ.01.1.016.150</text>
<text transform="translate(222 441.75) scale(0.81 1)" font-size="9.5" fill="#585858" text-anchor="middle">150</text>
<text transform="translate(247.5 441.75) scale(0.81 1)" font-size="9.5" fill="#585858" text-anchor="middle">229</text>
<text transform="translate(273 441.75) scale(0.81 1)" font-size="9.5" fill="#585858" text-anchor="middle">325</text>
<text transform="translate(300 441.75) scale(0.81 1)" font-size="9.5" fill="#585858" text-anchor="middle">240</text>
<text transform="translate(328.5 441.75) scale(0.81 1)" font-size="9.5" fill="#585858" text-anchor="middle">212</text>
<text transform="translate(357.5 441.75) scale(0.81 1)" font-size="9.5" fill="#585858" text-anchor="middle">668</text>
<text transform="translate(386 441.75) scale(0.81 1)" font-size="9.5" fill="#585858" text-anchor="middle">783</text>
<text transform="translate(415 441.75) scale(0.81 1)" font-size="9.5" fill="#585858" text-anchor="middle">215</text>
<text transform="translate(444 441.75) scale(0.81 1)" font-size="9.5" fill="#585858" text-anchor="middle">378</text>
<text transform="translate(472.5 441.75) scale(0.81 1)" font-size="9.5" fill="#585858" text-anchor="middle">148</text>
<text transform="translate(499.5 441.75) scale(0.81 1)" font-size="9.5" fill="#585858" text-anchor="middle">22</text>
<text transform="translate(524.5 441.75) scale(0.81 1)" font-size="9.5" fill="#585858" text-anchor="middle">8</text>
<text transform="translate(554 441.75) scale(0.81 1)" font-size="9.5" fill="#585858" text-anchor="middle">43,4</text>
<text transform="translate(584.5 441.75) scale(0.81 1)" font-size="9.5" fill="#585858" text-anchor="middle">2657</text>
</svg></body></html>
